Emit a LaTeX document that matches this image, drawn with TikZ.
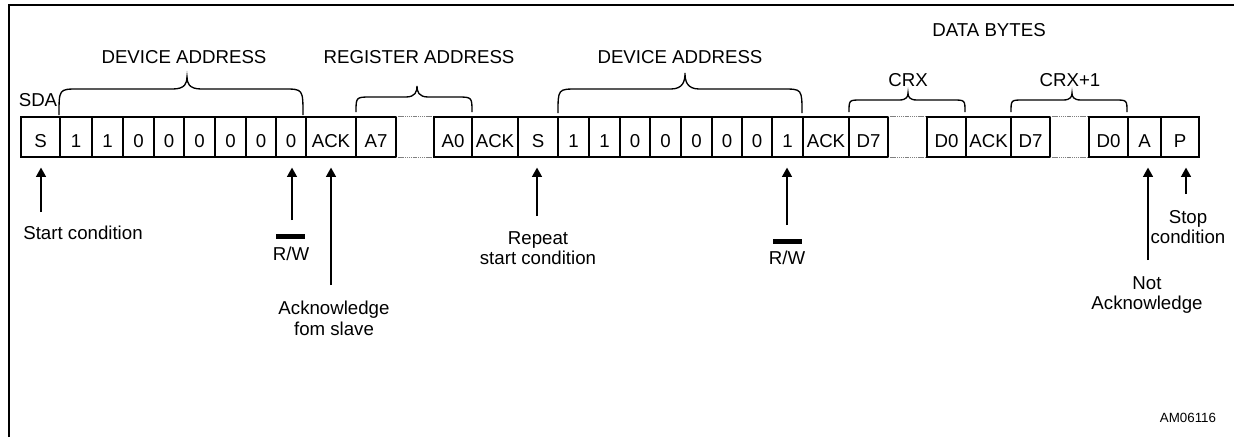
\documentclass[tikz,border=0pt]{standalone}
\usepackage{fontspec}
\setmainfont{Liberation Sans}
\usetikzlibrary{arrows.meta}
\tikzset{
  every node/.style={font=\fontsize{14}{15.5}\selectfont, inner sep=1pt},
  cellst/.style={draw, line width=0.9pt, minimum height=30pt, text height=15pt, text depth=0pt},
  gapst/.style={minimum height=30pt},
  dotline/.style={gray, line width=0.8pt, dash pattern=on 0.9pt off 0.5pt},
  bracest/.style={line width=1pt},
  arr/.style={line width=1pt, -{Triangle[length=7pt,width=7.5pt]}, shorten >=7.5pt},
  frame/.style={line width=1.5pt},
  lbl/.style={align=center},
  small/.style={font=\fontsize{10}{12}\selectfont}
}
\newcommand\cellbox[4]{\node[cellst, minimum width={(#3-#2)*0.75pt}] (#1) at ({(#2+#3)/2},137) {#4};}
\newcommand\gapbox[3]{\node[gapst, minimum width={(#3-#2)*0.75pt}] (#1) at ({(#2+#3)/2},137) {};
  \draw[dotline] (#1.north west) -- (#1.north east) (#1.south west) -- (#1.south east);}
\newcommand\ibrace[7]{\draw[bracest] (#1,#4) .. controls (#1,#5) .. ({#1+#7},#5) -- ({#2-0.75*#7},#5) .. controls ({#2-0.1*#7},#5) and (#2,{(#5+#6)/2}) .. (#2,#6) .. controls (#2,{(#5+#6)/2}) and ({#2+0.1*#7},#5) .. ({#2+0.75*#7},#5) -- ({#3-#7},#5) .. controls (#3,#5) .. (#3,#4);}
\begin{document}
\begin{tikzpicture}[x=0.75pt,y=-0.75pt]
\useasboundingbox (0,0) rectangle (1234,437);
% frame
\draw[frame] (9,437) -- (9,5) -- (1234,5);
% cells
\cellbox{c1}{21}{60}{S}
\cellbox{b1}{60}{92}{1}
\cellbox{b2}{92}{123}{1}
\cellbox{b3}{123}{154}{0}
\cellbox{b4}{154}{184}{0}
\cellbox{b5}{184}{215}{0}
\cellbox{b6}{215}{246}{0}
\cellbox{b7}{246}{276}{0}
\cellbox{b8}{276}{306}{0}
\cellbox{k1}{306}{356}{ACK}
\cellbox{a7}{356}{396}{A7}
\gapbox{g1}{396}{434}
\cellbox{a0}{434}{472}{A0}
\cellbox{k2}{472}{518}{ACK}
\cellbox{s2}{518}{558}{S}
\cellbox{d1}{558}{589}{1}
\cellbox{d2}{589}{620}{1}
\cellbox{d3}{620}{650}{0}
\cellbox{d4}{650}{681}{0}
\cellbox{d5}{681}{712}{0}
\cellbox{d6}{712}{742}{0}
\cellbox{d7}{742}{772}{0}
\cellbox{d8}{772}{803}{1}
\cellbox{k3}{803}{849}{ACK}
\cellbox{x7}{849}{888}{D7}
\gapbox{g2}{888}{927}
\cellbox{x0}{927}{966}{D0}
\cellbox{k4}{966}{1011}{ACK}
\cellbox{y7}{1011}{1050}{D7}
\gapbox{g3}{1050}{1089}
\cellbox{y0}{1089}{1128}{D0}
\cellbox{na}{1128}{1161}{A}
\cellbox{st}{1161}{1199}{P}
% braces
\ibrace{59}{187}{303}{115}{89}{77}{19}
\ibrace{356}{417}{472}{112}{97}{86}{15}
\ibrace{558}{685}{802}{113}{89}{73}{19}
\ibrace{849}{908}{965}{112}{100}{93}{12}
\ibrace{1011}{1072}{1127}{112}{100}{93}{12}
% top labels
\node (sda) at (38,100) {SDA};
\node (dev1) at (184,57) {DEVICE ADDRESS};
\node (reg) at (419,57) {REGISTER ADDRESS};
\node (dev2) at (680,57) {DEVICE ADDRESS};
\node (data) at (989,30) {DATA BYTES};
\node (crx) at (908,80) {CRX};
\node (crx1) at (1070,80) {CRX+1};
% bottom labels
\node (lStart) at (83,233) {Start condition};
\node (lRW1) at (291,254) {R/W};
\fill (276,234) rectangle (305,239);
\node[lbl] (lAck) at (334,318) {Acknowledge\\fom slave};
\node[lbl] (lRep) at (538,248) {Repeat\\start condition};
\node (lRW2) at (787,258) {R/W};
\fill (773,239) rectangle (802,244);
\node[lbl] (lNA) at (1147,295) {Not\\Acknowledge};
\node[lbl] (lSP) at (1188,227) {Stop\\condition};
\node[small] (code) at (1188,418) {AM06116};
% arrows
\coordinate (tS) at (41,212);
\coordinate (tRW1) at (292,220);
\coordinate (tAck) at (331,285);
\coordinate (tRep) at (537,216);
\coordinate (tRW2) at (787,225);
\coordinate (tNA) at (1148,260);
\coordinate (tSP) at (1186,194);
\draw[arr] (tS) -- (tS |- c1.south);
\draw[arr] (tRW1) -- (tRW1 |- b8.south);
\draw[arr] (tAck) -- (tAck |- k1.south);
\draw[arr] (tRep) -- (tRep |- s2.south);
\draw[arr] (tRW2) -- (tRW2 |- d8.south);
\draw[arr] (tNA) -- (tNA |- na.south);
\draw[arr] (tSP) -- (tSP |- st.south);
\end{tikzpicture}
\end{document}
